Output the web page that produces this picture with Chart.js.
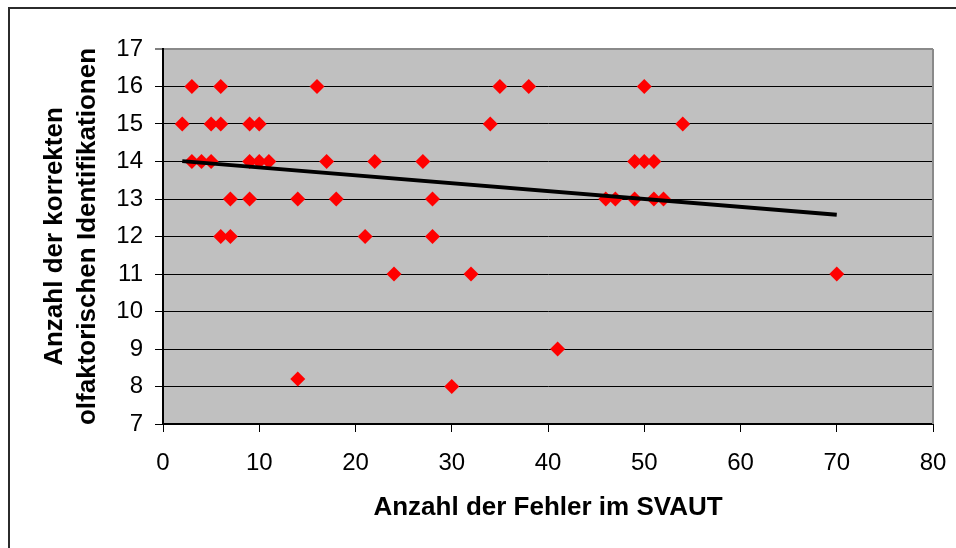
<!DOCTYPE html>
<html>
<head>
<meta charset="utf-8">
<script src="https://cdn.jsdelivr.net/npm/chart.js@4.4.1/dist/chart.umd.min.js"></script>
<style>
    html, body { margin: 0; padding: 0; background: #fff; }
    #wrap { width: 956px; height: 548px; }
</style>
</head>
<body>
<div id="wrap"><canvas id="scatterChart" width="956" height="548"></canvas></div>
<script>
// Anzahl der Fehler im SVAUT (x) / korrekte Identifikationen (y)
var fehler = [3, 6, 16, 35, 38, 50,
    2, 5, 6, 9, 10, 34, 54,
    3, 4, 5, 9, 10, 11, 17, 22, 27, 49, 50, 51,
    7, 9, 14, 18, 28, 46, 47, 49, 51, 52,
    6, 7, 21, 28,
    24, 32, 70,
    41, 14, 30];
var korrekt = [16, 16, 16, 16, 16, 16,
    15, 15, 15, 15, 15, 15, 15,
    14, 14, 14, 14, 14, 14, 14, 14, 14, 14, 14, 14,
    13, 13, 13, 13, 13, 13, 13, 13, 13, 13,
    12, 12, 12, 12,
    11, 11, 11,
    9, 8.2, 8];
var trendX = [2, 70];
var trendY = [14.01, 12.58];
var xTicks = [0, 10, 20, 30, 40, 50, 60, 70, 80];
var yTicks = [7, 8, 9, 10, 11, 12, 13, 14, 15, 16, 17];

var FONT = "'Liberation Sans', Arial, sans-serif";

function toPoints(xs, ys) {
    var pts = [];
    for (var i = 0; i < xs.length; i++) {
        pts.push({ x: xs[i], y: ys[i] });
    }
    return pts;
}

var backdrop = {
    id: 'backdrop',
    beforeDraw: function (chart) {
        var c = chart.ctx, a = chart.chartArea;
        c.save();
        c.fillStyle = '#fff';
        c.fillRect(0, 0, chart.width, chart.height);
        c.fillStyle = '#c0c0c0';
        c.fillRect(a.left, a.top, a.right - a.left, a.bottom - a.top);
        c.strokeStyle = '#2b2b2b';
        c.lineWidth = 2;
        c.beginPath();
        c.moveTo(9, chart.height);
        c.lineTo(9, 8);
        c.lineTo(chart.width, 8);
        c.stroke();
        c.restore();
    },
    beforeDatasetsDraw: function (chart) {
        var c = chart.ctx, a = chart.chartArea;
        c.save();
        c.strokeStyle = '#8a8a8a';
        c.lineWidth = 2;
        c.beginPath();
        c.moveTo(a.right, a.top);
        c.lineTo(a.right, a.bottom);
        c.stroke();
        c.restore();
    }
};

var ctx = document.getElementById('scatterChart');
var myChart = new Chart(ctx, {
    type: 'scatter',
    data: {
        datasets: [
            {
                label: 'Trend',
                data: toPoints(trendX, trendY),
                showLine: true,
                borderColor: '#000',
                borderWidth: 4,
                pointRadius: 0,
                order: 0
            },
            {
                label: 'Werte',
                data: toPoints(fehler, korrekt),
                pointStyle: 'rectRot',
                pointRadius: 7.5,
                backgroundColor: '#ff0000',
                borderColor: '#ff0000',
                borderWidth: 0,
                order: 1
            }
        ]
    },
    options: {
        responsive: false,
        animation: false,
        events: [],
        layout: { padding: { top: 49, right: 23, left: 0, bottom: 0 } },
        plugins: {
            legend: { display: false },
            tooltip: { enabled: false }
        },
        scales: {
            x: {
                type: 'linear',
                min: 0,
                max: 80,
                afterBuildTicks: function (s) { s.ticks = xTicks.map(function (v) { return { value: v }; }); },
                afterFit: function (s) {
                    s.height = 124;
                    s.paddingLeft = 0;
                    s.paddingRight = 0;
                },
                grid: { drawOnChartArea: false, drawTicks: true, tickLength: 8, tickColor: '#000', tickWidth: 1 },
                border: { color: '#000', width: 2 },
                ticks: { color: '#000', padding: 17, font: { family: FONT, size: 24 } },
                title: {
                    display: true,
                    text: 'Anzahl der Fehler im SVAUT',
                    color: '#000',
                    padding: { top: 0, bottom: 25 },
                    font: { family: FONT, size: 26, weight: 'bold' }
                }
            },
            y: {
                type: 'linear',
                min: 7,
                max: 17,
                afterBuildTicks: function (s) { s.ticks = yTicks.map(function (v) { return { value: v }; }); },
                afterFit: function (s) {
                    s.width = 163;
                    s.paddingTop = 0;
                    s.paddingBottom = 0;
                },
                grid: {
                    color: function (c) { return c.tick && c.tick.value === 17 ? '#8a8a8a' : '#000'; },
                    lineWidth: function (c) { return c.tick && c.tick.value === 17 ? 2 : 1; },
                    tickColor: '#000',
                    tickLength: 8,
                    tickWidth: 1
                },
                border: { color: '#000', width: 2 },
                ticks: { color: '#000', padding: 12, font: { family: FONT, size: 24 } },
                title: {
                    display: true,
                    text: ['Anzahl der korrekten', 'olfaktorischen Identifikationen'],
                    color: '#000',
                    padding: { top: 38, bottom: 0 },
                    font: { family: FONT, size: 26, weight: 'bold', lineHeight: 1.27 }
                }
            }
        }
    },
    plugins: [backdrop]
});
</script>
</body>
</html>
